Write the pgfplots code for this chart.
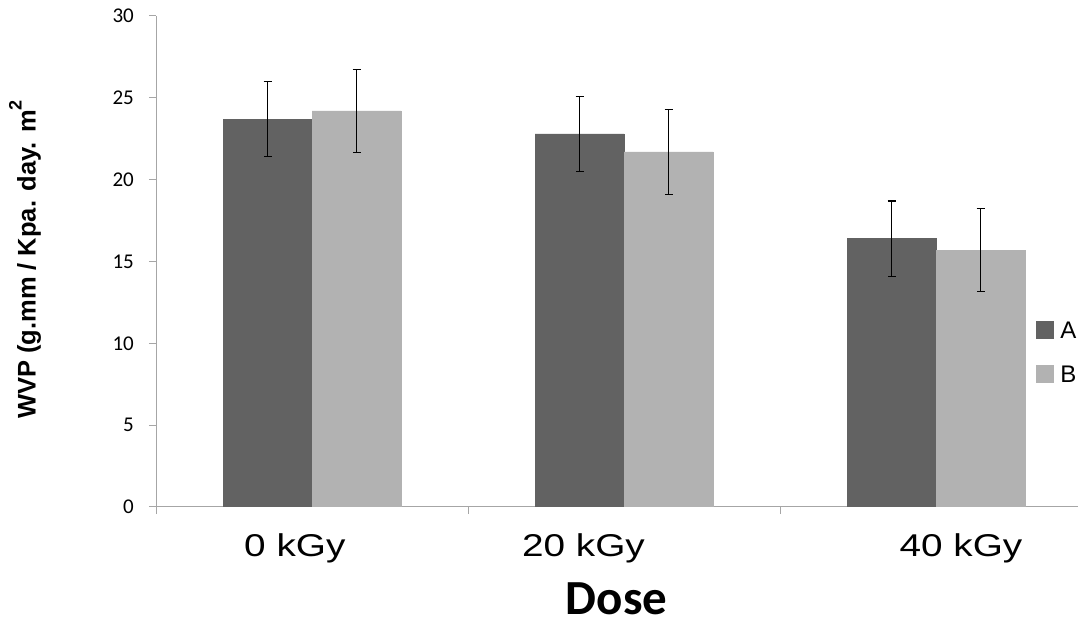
\documentclass[border=0pt]{standalone}
\usepackage{graphicx}
\usepackage{pgfplots}
\pgfplotsset{compat=1.18}
\usepackage{fontspec}
\setmainfont{Liberation Sans}
\newfontfamily\calibri{Carlito}
\definecolor{barA}{HTML}{626262}
\definecolor{barB}{HTML}{B2B2B2}
\definecolor{axisgray}{HTML}{A6A6A6}
% wide category labels under the groups
\newcommand{\widelabel}[1]{\scalebox{1.23}[1]{#1}}

\begin{document}
\begin{tikzpicture}[x=1pt,y=1pt]
\useasboundingbox (0,0) rectangle (1078,623);
\begin{axis}[
  at={(156pt,116pt)}, anchor=south west,
  scale only axis, width=936pt, height=491pt,
  xmin=0, xmax=3, ymin=0, ymax=30,
  axis lines*=left,
  axis line style={axisgray, line width=1pt},
  tick style={axisgray, line width=1pt},
  tick align=outside, major tick length=7pt,
  ytick={0,5,...,30},
  xtick={0,1,2,3}, xticklabels={},
  extra x ticks={0.445,1.37,2.58},
  extra x tick labels={\widelabel{0 kGy},\widelabel{20 kGy},\widelabel{40 kGy}},
  extra x tick style={major tick length=0pt,
    tick label style={anchor=base, inner sep=0pt, yshift=-49pt, font=\fontsize{31.5}{31.5}\selectfont}},
  /pgf/number format/assume math mode=true,
  yticklabel style={font=\calibri\fontsize{21}{21}\selectfont, inner sep=0pt, anchor=east, xshift=-15pt},
  ylabel={WVP (g.mm / Kpa. day. m\raisebox{0.55em}{\fontsize{18}{18}\selectfont 2}},
  ylabel style={at={(axis description cs:-0.140,0.504)}, anchor=center, rotate=0,
    font=\bfseries\fontsize{25.5}{25.5}\selectfont},
  xlabel={Dose},
  xlabel style={at={(axis description cs:0.492,-0.2195)}, anchor=base, inner sep=0pt,
    font=\calibri\bfseries\fontsize{49}{49}\selectfont},
  ybar=0pt, bar width=89pt,
  legend style={draw=none, fill=none, inner sep=0pt,
    at={(axis description cs:0.940,0.316)}, anchor=west,
    font=\fontsize{24}{24}\selectfont,
    nodes={inner sep=0pt, text height=17pt, text depth=0pt},
    row sep=27pt, column sep=7pt},
  legend cell align=left,
  legend image code/.code={\fill[#1] (0pt,-8.5pt) rectangle (17pt,8.5pt);},
]
\addplot[fill=barA, draw=barA,
  error bars/.cd, y dir=both, y explicit,
  error bar style={draw=black, line width=1.2pt},
  error mark options={rotate=90, mark size=4pt, draw=black, line width=1.2pt}]
  coordinates {(0.5,23.7) +- (0,2.3) (1.5,22.8) +- (0,2.3) (2.5,16.4) +- (0,2.3)};
\addplot[fill=barB, draw=barB,
  error bars/.cd, y dir=both, y explicit,
  error bar style={draw=black, line width=1.2pt},
  error mark options={rotate=90, mark size=4pt, draw=black, line width=1.2pt}]
  coordinates {(0.5,24.2) +- (0,2.55) (1.5,21.7) +- (0,2.6) (2.5,15.7) +- (0,2.55)};
\legend{A,B}
\end{axis}
\end{tikzpicture}
\end{document}
